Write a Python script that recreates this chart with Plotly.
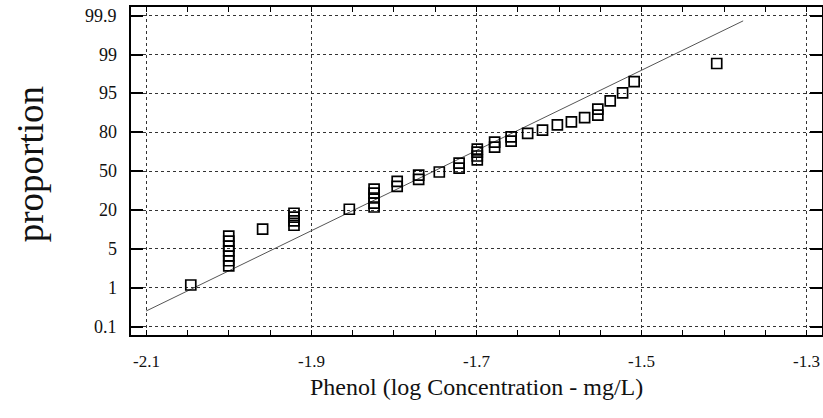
import numpy as np
import plotly.graph_objects as go
from statistics import NormalDist

# ---- data ----
phenol_log = [-2.046,
              -2.0, -2.0, -2.0, -2.0, -2.0, -2.0, -2.0,
              -1.959,
              -1.921, -1.921, -1.921, -1.921,
              -1.854,
              -1.824, -1.824, -1.824, -1.824, -1.824,
              -1.796, -1.796,
              -1.770, -1.770,
              -1.745,
              -1.721, -1.721,
              -1.699, -1.699, -1.699, -1.699,
              -1.678, -1.678,
              -1.658, -1.658,
              -1.638,
              -1.620,
              -1.602,
              -1.585,
              -1.569,
              -1.553, -1.553,
              -1.538,
              -1.523,
              -1.509,
              -1.409]
proportion_pct = [1.14,
                  2.6, 3.2, 3.85, 4.66, 5.6, 6.9, 8.4,
                  10.8,
                  12.4, 14.3, 16.2, 18.2,
                  20.5,
                  21.9, 24.5, 28.1, 31.8, 34.9,
                  37.1, 41.3,
                  43.0, 46.6,
                  49.3,
                  52.7, 57.0,
                  59.6, 62.9, 66.0, 68.4,
                  69.9, 73.6,
                  74.2, 77.1,
                  79.3,
                  81.3,
                  84.0,
                  85.5,
                  87.4,
                  88.4, 90.7,
                  93.2,
                  95.1,
                  96.8,
                  98.5]
fit_x = [-2.1, -1.377]
fit_pct = [0.27, 99.86]

y_tick_pct = [0.1, 1, 5, 20, 50, 80, 95, 99, 99.9]
y_tick_labels = ["0.1", "1", "5", "20", "50", "80", "95", "99", "99.9"]
x_tick_vals = [-2.1, -1.9, -1.7, -1.5, -1.3]
x_tick_labels = ["-2.1", "-1.9", "-1.7", "-1.5", "-1.3"]

# probability scale: equally spaced labelled levels, probit-interpolated between
nd = NormalDist()
tick_z = [nd.inv_cdf(p / 100) for p in y_tick_pct]
tick_pos = list(range(len(y_tick_pct)))


def prob_axis(pcts):
    return [float(np.interp(nd.inv_cdf(p / 100), tick_z, tick_pos)) for p in pcts]


FONT = "Liberation Serif"
INK = "#111111"

fig = go.Figure()
fig.add_trace(go.Scatter(
    x=fit_x, y=prob_axis(fit_pct), mode="lines",
    line=dict(color="#555555", width=1), hoverinfo="skip", showlegend=False))
fig.add_trace(go.Scatter(
    x=phenol_log, y=prob_axis(proportion_pct), mode="markers",
    marker=dict(symbol="square-open", size=10, color="black",
                line=dict(color="black", width=1.7)),
    showlegend=False))

annotations = [
    dict(text="proportion", xref="paper", yref="paper",
         x=-0.145, y=0.52, xanchor="center", yanchor="middle",
         textangle=-90, showarrow=False,
         font=dict(family=FONT, size=37, color=INK)),
    dict(text="Phenol (log Concentration - mg/L)", xref="paper", yref="paper",
         x=0.5, y=-0.158, xanchor="center", yanchor="middle",
         showarrow=False, font=dict(family=FONT, size=24, color=INK)),
]
# tick labels as text drawn at the axis tick positions
for pos, lab in zip(tick_pos, y_tick_labels):
    annotations.append(dict(text=lab, xref="paper", yref="y", x=-0.017, y=pos,
                            xanchor="right", yanchor="middle", showarrow=False,
                            font=dict(family=FONT, size=18, color=INK)))
for val, lab in zip(x_tick_vals, x_tick_labels):
    annotations.append(dict(text=lab, xref="x", yref="paper", x=val, y=-0.082,
                            xanchor="center", yanchor="middle", showarrow=False,
                            font=dict(family=FONT, size=17, color=INK)))

fig.update_layout(
    width=823, height=418,
    margin=dict(l=131, r=1, t=7, b=83, autoexpand=False),
    paper_bgcolor="white", plot_bgcolor="white",
    font=dict(family=FONT, color=INK),
    annotations=annotations,
)

fig.update_xaxes(
    range=[-2.1184, -1.2815], automargin=False,
    tickmode="array", tickvals=x_tick_vals, showticklabels=False,
    ticks="inside", ticklen=5, tickwidth=1, tickcolor="black",
    minor=dict(dtick=0.05, tick0=-2.1, ticks="inside", ticklen=5,
               tickwidth=1, tickcolor="black", showgrid=False),
    showline=True, linecolor="black", linewidth=2, mirror="ticks",
    showgrid=True, gridcolor="#333333", griddash="dot", gridwidth=1,
    zeroline=False,
)
fig.update_yaxes(
    range=[-0.214, 8.224], automargin=False,
    tickmode="array", tickvals=tick_pos, showticklabels=False,
    ticks="inside", ticklen=12, tickwidth=2, tickcolor="black",
    showline=True, linecolor="black", linewidth=2, mirror="ticks",
    showgrid=True, gridcolor="#333333", griddash="dot", gridwidth=1,
    zeroline=False,
)

fig.write_html(
    "out.html",
    config={"displayModeBar": False},
    post_script="document.body.style.margin='0';document.body.style.overflow='hidden';",
)
